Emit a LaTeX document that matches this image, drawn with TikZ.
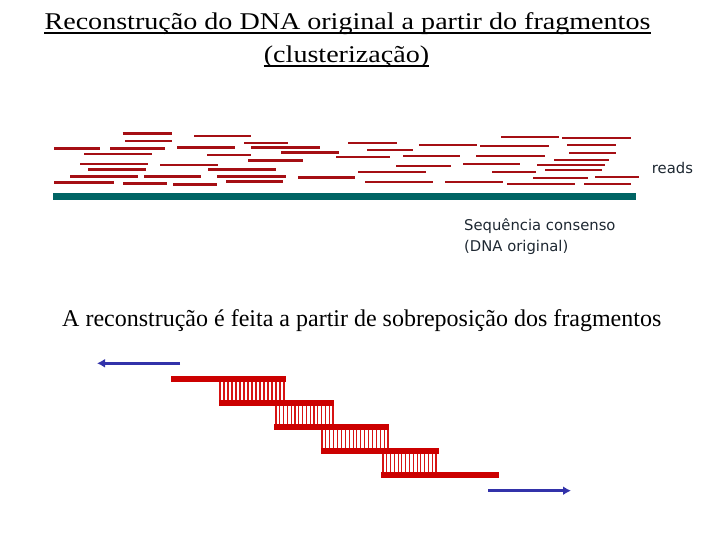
\documentclass[tikz,border=0pt]{standalone}
\usepackage{fontspec}
\setmainfont{Liberation Serif}
\newfontfamily\titlefont{Liberation Serif}[FakeStretch=1.17]
\newfontfamily\labfont{DejaVu Sans}
\usetikzlibrary{arrows.meta}
\definecolor{readred}{RGB}{165,15,20}
\definecolor{consteal}{RGB}{0,100,100}
\definecolor{barred}{RGB}{204,0,0}
\definecolor{rungred}{RGB}{215,20,20}
\definecolor{arrblue}{RGB}{50,50,170}
\definecolor{labgray}{RGB}{30,40,50}
\newcommand\drawrungs[4]{%
  \pgfmathsetmacro\nrung{int(round((#2-#1)/3.9))}%
  \foreach \k in {0,...,\nrung}{%
    \draw[rung] ({#1+\k*(#2-#1)/\nrung},#3) -- ({#1+\k*(#2-#1)/\nrung},#4);}%
}
\begin{document}
\begin{tikzpicture}[x=1pt,y=-1pt,
  readline/.style={draw=readred,line width=2.8pt},
  consbar/.style={draw=consteal,line width=7pt},
  fragbar/.style={draw=barred,line width=6pt},
  rung/.style={draw=rungred,line width=1.1pt},
  dirarrow/.style={draw=arrblue,line width=3pt,-{Latex[length=8pt,width=9pt]}},
  titletext/.style={inner sep=0pt,font=\titlefont\fontsize{24}{28}\selectfont},
  subtext/.style={inner sep=0pt,font=\fontsize{24}{28}\selectfont},
  labtext/.style={inner sep=0pt,text=labgray,font=\labfont\fontsize{14.8}{17}\selectfont},
  uline/.style={draw=black,line width=1.8pt}]
\useasboundingbox (0,0) rectangle (720,540);

% title
\node[titletext,anchor=base] (t1) at (347.5,30) {Reconstrução do DNA original a partir do fragmentos};
\node[titletext,anchor=base] (t2) at (346.5,63) {(clusterização)};
\draw[uline] ([yshift=-3pt]t1.base west) -- ([yshift=-3pt]t1.base east);
\draw[uline] ([yshift=-3pt]t2.base west) -- ([yshift=-3pt]t2.base east);

% reads
\foreach \a/\b/\y in {
  122.7/171.7/133.3, 194/250.7/136, 125/171.7/141, 244/287.7/143,
  54/99.7/148.3, 110/164.7/148.3, 177/234.7/147.3, 251/319.7/147.3,
  281/338.7/152.3, 84/151.7/154, 207/250.7/155, 248/302.7/160.3,
  80/147.7/164, 160/217.7/165, 88/145.7/169.3, 208/275.7/169.3,
  70/137.7/176.3, 144/200.7/176.3, 217/285.7/176.3, 298/354.7/177.3,
  54/113.7/182.3, 123/166.7/183.3, 173/216.7/184.3, 226/282.7/181.3,
  501/558.7/137, 562/630.7/138, 348/396.7/143, 419/476.7/145,
  480/548.7/146, 567/615.7/145, 367/412.7/150, 336/389.7/157,
  403/459.7/156, 476/544.7/156, 569/615.7/153, 554/608.7/160,
  396/450.7/166, 463/519.7/164, 537/604.7/165, 358/425.7/172,
  492/535.7/172, 545/601.7/170, 533/587.7/178, 595/638.7/177,
  365/432.7/182, 445/502.7/182, 507/574.7/184, 584/630.7/184}
  {\draw[readline] (\a,\y) -- (\b,\y);}

% consensus
\coordinate (c1) at (53,196.5);
\coordinate (c2) at (635.7,196.5);
\draw[consbar] (c1) -- (c2);

\node[labtext,anchor=base west] (reads) at (651.7,173.3) {reads};
\node[labtext,anchor=base west] (cons1) at (464,230) {Sequência consenso};
\node[labtext,anchor=base west] (cons2) at (464,251.5) {(DNA original)};

% subtitle
\node[subtext,anchor=base west] (sub) at (62,326) {A reconstrução é feita a partir de sobreposição dos fragmentos};

% direction arrows
\coordinate (la1) at (180,363.3);
\coordinate (la2) at (97,363.3);
\draw[dirarrow] (la1) -- (la2);
\coordinate (ra1) at (488,490.7);
\coordinate (ra2) at (571,490.7);
\draw[dirarrow] (ra1) -- (ra2);

% fragments
\draw[fragbar] (171,379) -- (285.7,379);
\draw[fragbar] (219.3,402.7) -- (334,402.7);
\draw[fragbar] (274.3,426.7) -- (388.7,426.7);
\draw[fragbar] (321.3,450.7) -- (438.7,450.7);
\draw[fragbar] (381.3,474.7) -- (498.7,474.7);

\drawrungs{220}{284}{382}{399.7}
\drawrungs{276}{333}{405.7}{423.7}
\drawrungs{322}{388}{429.7}{447.7}
\drawrungs{383}{436}{453.7}{471.7}
\end{tikzpicture}
\end{document}
